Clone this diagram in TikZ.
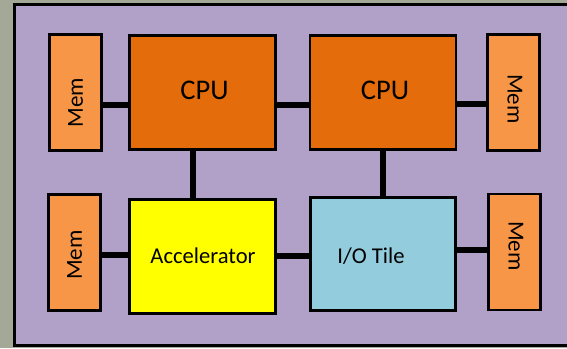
\documentclass[tikz,border=0pt]{standalone}
\usepackage{fontspec}
\setmainfont{Carlito}
\definecolor{bgfill}{HTML}{A4A997}
\definecolor{dieviolet}{HTML}{B1A0C8}
\definecolor{cpuorange}{HTML}{E46C0A}
\definecolor{memorange}{HTML}{F79646}
\definecolor{accyellow}{HTML}{FFFF00}
\definecolor{ioblue}{HTML}{93CDDD}
\tikzset{
  blk/.style={draw=black, line width=2.6pt, inner sep=0pt, anchor=center},
  membox/.style={blk, fill=memorange, minimum width=52pt, minimum height=116pt},
  cpubox/.style={blk, fill=cpuorange, minimum width=146pt, minimum height=114pt},
  link/.style={draw=black, line width=6pt},
  memlabel/.style={font=\fontsize{23}{23}\selectfont, inner sep=0pt},
  biglabel/.style={font=\fontsize{28.5}{28.5}\selectfont, inner sep=0pt},
  tilelabel/.style={font=\fontsize{22.6}{22.6}\selectfont, inner sep=0pt}
}
\begin{document}
\begin{tikzpicture}[x=1pt, y=-1pt]
  % page frame
  \useasboundingbox (0,0) rectangle (567,348);
  \fill[bgfill] (0,0) rectangle (567,348);
  % the die
  \draw[fill=dieviolet, line width=3pt] (580,4.3) -- (14.2,4.3) -- (14.2,345.6) -- (580,345.6);

  % blocks, top row
  \node[membox] (memTL) at (75.5,92.5) {};
  \node[cpubox] (cpuA) at (202.5,92.5) {};
  \node[cpubox] (cpuB) at (383,92.5) {};
  \node[membox] (memTR) at (513.5,92.5) {};
  % blocks, bottom row
  \node[membox] (memBL) at (74.5,252.5) {};
  \node[blk, fill=accyellow, minimum width=146pt, minimum height=114pt] (acc) at (202.5,256.5) {};
  \node[blk, fill=ioblue, minimum width=145pt, minimum height=113pt] (io) at (383,254) {};
  \node[membox] (memBR) at (514.5,252) {};

  % links
  \draw[link] (memTL.east |- 0,105) -- (cpuA.west |- 0,105);
  \draw[link] (cpuA.east |- 0,105) -- (cpuB.west |- 0,105);
  \draw[link] (cpuB.east |- 0,104) -- (memTR.west |- 0,104);
  \draw[link] (cpuA.south -| 193,0) -- (acc.north -| 193,0);
  \draw[link] (cpuB.south -| 383,0) -- (io.north -| 383,0);
  \draw[link] (memBL.east |- 0,255) -- (acc.west |- 0,255);
  \draw[link] (acc.east |- 0,256) -- (io.west |- 0,256);
  \draw[link] (io.east |- 0,250) -- (memBR.west |- 0,250);

  % labels
  \node[biglabel] (tcpuA) at (204.5,90) {CPU};
  \node[biglabel] (tcpuB) at (385,90) {CPU};
  \node[tilelabel] (tacc) at (203,256) {Accelerator};
  \node[tilelabel] (tio) at (371,256) {I/O Tile};
  \node[memlabel, rotate=90] (tmemTL) at (75.5,102.5) {Mem};
  \node[memlabel, rotate=-90] (tmemTR) at (515,99) {Mem};
  \node[memlabel, rotate=90] (tmemBL) at (74.5,255) {Mem};
  \node[memlabel, rotate=-90] (tmemBR) at (516,246) {Mem};
\end{tikzpicture}
\end{document}
